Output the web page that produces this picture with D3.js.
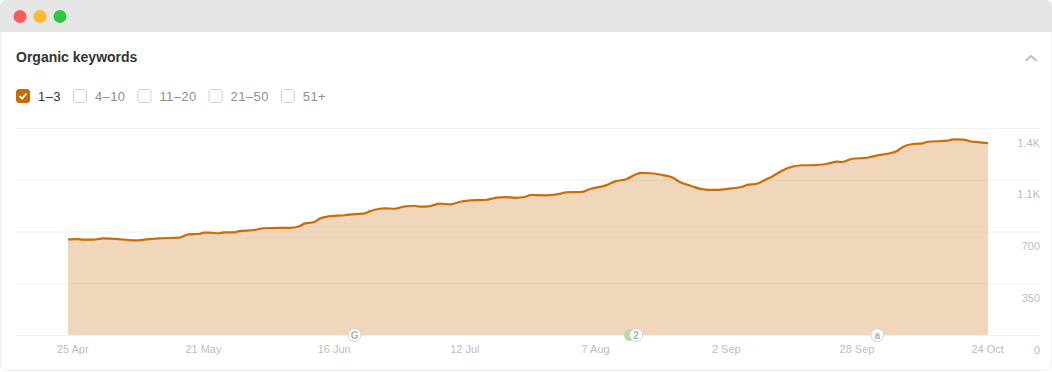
<!DOCTYPE html>
<html lang="en">
<head>
<meta charset="UTF-8">
<title>Organic keywords</title>
<script src="https://d3js.org/d3.v7.min.js"></script>
<style>
    html, body { margin: 0; padding: 0; background: #fff; overflow: hidden; }
    svg { display: block; font-family: "Liberation Sans", Arial, sans-serif; }
    .tick line { stroke: #f0f0f0; }
    .domain { display: none; }
    .tick text { fill: #bdbdbd; font-size: 11px; font-family: "Liberation Sans", Arial, sans-serif; }
</style>
</head>
<body>
<script>
// values
const startDate = "2023-04-24";
const dayOffsets = [0, 2, 3, 5, 7, 10, 12, 14, 16, 18, 22, 23, 24, 26, 27, 28, 30, 31, 33, 34, 37, 39, 42, 44, 46, 47, 49, 50, 52, 55, 57, 59, 60, 61, 63, 65, 67, 69, 70, 72, 74, 76, 78, 80, 83, 85, 87, 89, 91, 92, 95, 98, 99, 102, 104, 107, 109, 111, 113, 114, 116, 118, 120, 122, 124, 126, 129, 132, 134, 135, 137, 139, 140, 142, 144, 146, 148, 151, 153, 154, 156, 159, 161, 163, 165, 166, 168, 170, 171, 175, 176, 178, 180, 181, 183];
const keywords = [647, 649, 645, 645, 654, 649, 642, 640, 649, 654, 658, 669, 681, 683, 692, 692, 688, 694, 694, 703, 710, 722, 724, 724, 735, 753, 764, 786, 803, 810, 818, 823, 836, 847, 857, 854, 870, 874, 868, 872, 888, 884, 901, 911, 913, 928, 933, 928, 935, 947, 945, 956, 965, 967, 989, 1012, 1041, 1053, 1087, 1096, 1094, 1084, 1068, 1030, 1008, 987, 981, 992, 1001, 1014, 1023, 1055, 1071, 1111, 1138, 1148, 1148, 1158, 1172, 1170, 1192, 1199, 1215, 1226, 1246, 1271, 1292, 1296, 1307, 1314, 1323, 1321, 1307, 1305, 1298];
const xTickDates = ["2023-04-25", "2023-05-21", "2023-06-16", "2023-07-12", "2023-08-07", "2023-09-02", "2023-09-28", "2023-10-24"];
const yTickValues = [0, 350, 700, 1050, 1400];
const yTickLabels = ["0", "350", "700", "1.1K", "1.4K"];
const positionRanges = ["1–3", "4–10", "11–20", "21–50", "51+"];
const annotationDates = ["2023-06-20", "2023-08-15", "2023-10-02"];
const annotationLabels = ["G", "2", "a"];
const annotationGreenDates = ["2023-08-14"];

const width = 1052, height = 372;
const parseDay = d3.utcParse("%Y-%m-%d");
const start = parseDay(startDate);
const data = dayOffsets.map((d, i) => ({ date: d3.utcDay.offset(start, d), value: keywords[i] }));

const svg = d3.select("body").append("svg")
    .attr("width", width)
    .attr("height", height);

// window frame
svg.append("rect").attr("x", 0.5).attr("y", 0.5).attr("width", width - 1).attr("height", height - 2)
    .attr("rx", 6).attr("fill", "#fff").attr("stroke", "#efefef");
svg.append("path").attr("d", `M0 32V6a6 6 0 0 1 6-6H${width - 6}a6 6 0 0 1 6 6V32Z`).attr("fill", "#e6e6e6");
svg.selectAll("circle.light")
    .data([["#fc5b57", 20], ["#fdb82e", 40], ["#2cc940", 60]])
    .join("circle")
    .attr("class", "light")
    .attr("cx", d => d[1]).attr("cy", 16.5).attr("r", 6.5)
    .attr("fill", d => d[0]);

svg.append("text").attr("x", 16).attr("y", 62)
    .attr("font-size", 14).attr("font-weight", "bold").attr("fill", "#333")
    .text("Organic keywords");
svg.append("path").attr("d", "M1025.5 61l5.5-5 5.5 5").attr("fill", "none")
    .attr("stroke", "#c0c0c0").attr("stroke-width", 2);

// checkboxes, each one placed after the width of the previous label
let legendX = 16;
positionRanges.forEach((label, i) => {
    const g = svg.append("g").attr("transform", `translate(${legendX},89)`);
    g.append("rect").attr("x", 0.5).attr("y", 0.5).attr("width", 13).attr("height", 13).attr("rx", 2.5)
        .attr("fill", i === 0 ? "#c96a00" : "#fff")
        .attr("stroke", i === 0 ? "#c96a00" : "#cfcfcf");
    if (i === 0) {
        g.append("path").attr("d", "M3.5 7.2l2.5 2.5 4.5-5").attr("fill", "none")
            .attr("stroke", "#fff").attr("stroke-width", 1.8);
    }
    const t = g.append("text").attr("x", 22).attr("y", 12)
        .attr("font-size", 13).attr("letter-spacing", 0.4).attr("fill", i === 0 ? "#333" : "#8f8f8f")
        .text(label);
    legendX += 22 + t.node().getComputedTextLength() + 12;
});

// scales
const x = d3.scaleUtc()
    .domain([start, parseDay("2023-10-24")])
    .range([68, 988]);
const y = d3.scaleLinear()
    .domain([0, 1400])
    .range([335, 128]);

// grid + y labels
svg.append("g")
    .attr("transform", "translate(16,0)")
    .call(d3.axisRight(y).tickValues(yTickValues).tickSize(1024).tickFormat(""));
const yAxis = svg.append("g")
    .attr("transform", "translate(1040,0)")
    .call(d3.axisLeft(y).tickValues(yTickValues).tickSize(0).tickPadding(0)
        .tickFormat((d, i) => yTickLabels[i]));
yAxis.selectAll("text").attr("dy", "1.65em");
yAxis.selectAll("text").attr("y", 0);

// area + line
const area = d3.area().x(d => x(d.date)).y0(y(0)).y1(d => y(d.value)).curve(d3.curveMonotoneX);
const line = d3.line().x(d => x(d.date)).y(d => y(d.value)).curve(d3.curveMonotoneX);
svg.append("path").datum(data).attr("d", area).attr("fill", "#c96a0a").attr("fill-opacity", 0.28);
svg.append("path").datum(data).attr("d", line).attr("fill", "none")
    .attr("stroke", "#cc6d00").attr("stroke-width", 2.2);

// x labels
const xAxis = svg.append("g")
    .attr("transform", "translate(-0.8,335)")
    .call(d3.axisBottom(x).tickValues(xTickDates.map(parseDay)).tickSize(0).tickPadding(10)
        .tickFormat(d3.utcFormat("%-d %b")));

// annotation markers on the baseline
svg.selectAll("circle.green")
    .data(annotationGreenDates)
    .join("circle")
    .attr("class", "green")
    .attr("cx", d => x(parseDay(d)) - 1).attr("cy", y(0)).attr("r", 6)
    .attr("fill", "#b4d8a8");
const marks = svg.selectAll("g.mark")
    .data(annotationDates)
    .join("g")
    .attr("class", "mark")
    .attr("transform", d => `translate(${x(parseDay(d))},${y(0)})`);
marks.append("circle").attr("r", 6.5).attr("fill", "#fff").attr("stroke", "#d2d2d2");
marks.append("text").attr("text-anchor", "middle").attr("y", 3.5)
    .attr("font-size", 10).attr("font-weight", "bold").attr("fill", "#b0b0b0")
    .text((d, i) => annotationLabels[i]);
</script>
</body>
</html>
